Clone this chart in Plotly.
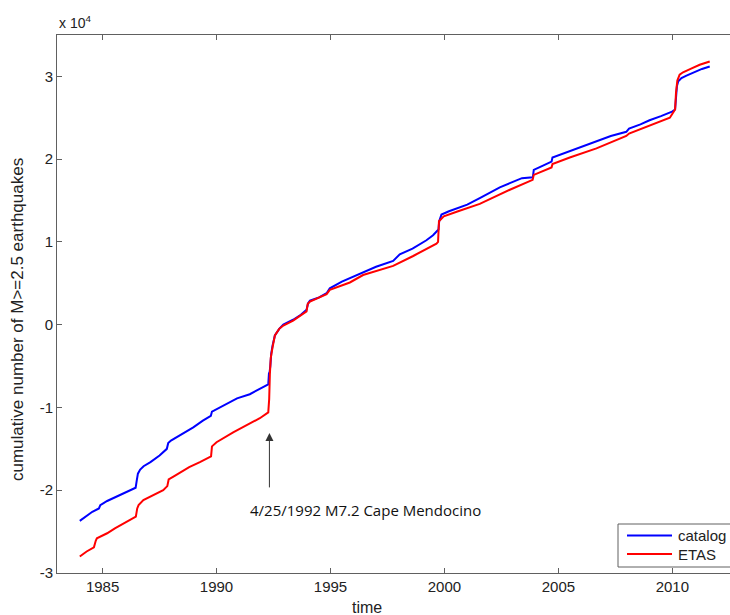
import plotly.graph_objects as go

# ---- data (values in units of 10^4 earthquakes) ----
catalog_year = [1984.00, 1984.15, 1984.30, 1984.55, 1984.84, 1984.90, 1985.20, 1985.50, 1985.76,
                1986.10, 1986.45, 1986.50, 1986.55, 1986.65, 1986.80, 1987.10, 1987.50, 1987.82,
                1987.88, 1988.00, 1988.50, 1988.98, 1989.40, 1989.75, 1989.80, 1990.00, 1990.37,
                1990.90, 1991.46, 1991.90, 1992.27, 1992.30, 1992.33, 1992.36, 1992.40, 1992.46,
                1992.56, 1992.75, 1992.93, 1993.36, 1993.70, 1993.95, 1994.02, 1994.10, 1994.50,
                1994.83, 1994.97, 1995.50, 1996.00, 1996.43, 1997.00, 1997.75, 1997.85, 1998.04,
                1998.60, 1999.21, 1999.50, 1999.68, 1999.74, 1999.77, 1999.87, 2000.20, 2000.53,
                2001.00, 2001.55, 2002.00, 2002.43, 2002.87, 2003.40, 2003.88, 2003.92, 2004.30,
                2004.70, 2004.74, 2005.50, 2006.00, 2006.67, 2007.30, 2007.98, 2008.10, 2008.60,
                2009.00, 2009.50, 2009.96, 2010.12, 2010.16, 2010.20, 2010.26, 2010.40, 2010.62,
                2011.00, 2011.30, 2011.64]
catalog_val = [-2.37, -2.34, -2.30, -2.26, -2.22, -2.18, -2.13, -2.09, -2.06,
               -2.02, -1.97, -1.88, -1.80, -1.75, -1.71, -1.66, -1.58, -1.50,
               -1.43, -1.40, -1.32, -1.24, -1.16, -1.10, -1.05, -1.02, -0.96,
               -0.89, -0.84, -0.77, -0.72, -0.59, -0.57, -0.50, -0.35, -0.25,
               -0.13, -0.05, 0.00, 0.06, 0.12, 0.18, 0.26, 0.29, 0.33,
               0.38, 0.44, 0.52, 0.58, 0.63, 0.70, 0.77, 0.80, 0.85,
               0.92, 1.02, 1.08, 1.13, 1.15, 1.25, 1.33, 1.37, 1.40,
               1.45, 1.53, 1.60, 1.66, 1.71, 1.77, 1.78, 1.87, 1.92,
               1.97, 2.02, 2.10, 2.15, 2.22, 2.28, 2.33, 2.37, 2.42,
               2.47, 2.52, 2.57, 2.60, 2.72, 2.88, 2.94, 2.98, 3.01,
               3.06, 3.09, 3.12]

etas_year = [1984.00, 1984.30, 1984.62, 1984.66, 1984.70, 1984.75, 1984.89, 1985.20, 1985.54,
             1986.00, 1986.46, 1986.52, 1986.58, 1986.79, 1987.20, 1987.66, 1987.84, 1987.90,
             1988.20, 1988.80, 1989.27, 1989.76, 1989.80, 1990.00, 1990.73, 1991.46, 1991.90,
             1992.27, 1992.31, 1992.34, 1992.38, 1992.46, 1992.56, 1992.75, 1992.93, 1993.36,
             1993.95, 1994.00, 1994.10, 1994.83, 1994.97, 1995.85, 1996.43, 1997.75, 1998.63,
             1999.65, 1999.72, 1999.76, 1999.97, 2000.60, 2001.55, 2002.87, 2003.87, 2003.92,
             2004.70, 2004.74, 2005.50, 2006.67, 2007.98, 2008.10, 2009.00, 2009.89, 2010.03,
             2010.12, 2010.16, 2010.22, 2010.32, 2010.47, 2010.80, 2011.20, 2011.64]
etas_val = [-2.80, -2.74, -2.69, -2.63, -2.61, -2.58, -2.56, -2.52, -2.46,
            -2.39, -2.32, -2.22, -2.18, -2.12, -2.06, -2.00, -1.95, -1.87,
            -1.82, -1.72, -1.66, -1.59, -1.47, -1.42, -1.30, -1.20, -1.13,
            -1.06, -0.90, -0.60, -0.40, -0.27, -0.13, -0.05, -0.01, 0.05,
            0.16, 0.25, 0.28, 0.37, 0.42, 0.51, 0.60, 0.71, 0.83,
            0.98, 1.00, 1.25, 1.31, 1.37, 1.46, 1.63, 1.75, 1.81,
            1.90, 1.94, 2.02, 2.13, 2.28, 2.31, 2.41, 2.50, 2.56,
            2.60, 2.80, 2.95, 3.02, 3.05, 3.09, 3.14, 3.18]

x_ticks = [1985, 1990, 1995, 2000, 2005, 2010]
y_ticks = [-3, -2, -1, 0, 1, 2, 3]
series_names = ["catalog", "ETAS"]
series_colors = ["#0000ff", "#ff0000"]

event_year = 1992.32
event_label = "4/25/1992 M7.2 Cape Mendocino"

FONT = "Liberation Sans, Arial, sans-serif"
AX = "#606060"

fig = go.Figure()
fig.add_trace(go.Scatter(x=catalog_year, y=catalog_val, mode="lines", name=series_names[0],
                         line=dict(color=series_colors[0], width=2), showlegend=False))
fig.add_trace(go.Scatter(x=etas_year, y=etas_val, mode="lines", name=series_names[1],
                         line=dict(color=series_colors[1], width=2), showlegend=False))

W, H = 730, 615
L, R, T, B = 57, 0, 35, 42
pw, ph = W - L - R, H - T - B

def px(x):
    return (x - L) / pw

def py(y):
    return (H - B - y) / ph

fig.update_layout(
    width=W, height=H,
    margin=dict(l=L, r=R, t=T, b=B, pad=0),
    paper_bgcolor="white", plot_bgcolor="white",
    font=dict(family=FONT, size=15, color="#222"),
    xaxis=dict(range=[1983, 2012.53], tickvals=x_ticks, ticktext=[str(v) for v in x_ticks],
               ticks="inside", ticklen=5, tickcolor=AX, showline=True, linecolor=AX,
               linewidth=1, mirror="ticks", showgrid=False, zeroline=False,
               tickfont=dict(size=15, color="#222")),
    yaxis=dict(range=[-3, 3.5], tickvals=y_ticks, ticktext=[str(v) for v in y_ticks],
               ticks="inside", ticklen=5, tickcolor=AX, showline=True, linecolor=AX,
               linewidth=1, mirror=False, showgrid=False, zeroline=False,
               tickfont=dict(size=15, color="#222")),
    showlegend=False,
)

annotations = [
    dict(text="x 10<sup>4</sup>", xref="paper", yref="paper", x=px(57), y=py(22),
         xanchor="left", yanchor="middle", showarrow=False, font=dict(size=14, color="#222")),
    dict(text="cumulative number of M>=2.5 earthquakes", xref="paper", yref="paper",
         x=px(17), y=py(320), textangle=-90, xanchor="center", yanchor="middle",
         showarrow=False, font=dict(size=17, color="#222")),
    dict(text="time", xref="paper", yref="paper", x=px(367), y=py(607),
         xanchor="center", yanchor="middle", showarrow=False, font=dict(size=16, color="#222")),
    dict(text=" ", x=event_year, y=-1.31, ax=event_year, ay=-1.99, xref="x", yref="y",
         axref="x", ayref="y", showarrow=True, arrowhead=2, arrowsize=1.6, arrowwidth=1,
         arrowcolor="#333", font=dict(size=1)),
    dict(text=event_label, xref="paper", yref="paper", x=px(365), y=py(510),
         xanchor="center", yanchor="middle", showarrow=False,
         font=dict(family="Open Sans, sans-serif", size=15, color="#111")),
]

# legend drawn manually (box + sample lines + labels)
shapes = [dict(type="rect", xref="paper", yref="paper", x0=px(618), x1=px(745),
               y0=py(567), y1=py(524), line=dict(color=AX, width=1), fillcolor="white")]
for i, (nm, col) in enumerate(zip(series_names, series_colors)):
    yy = 535.5 + 18.5 * i
    shapes.append(dict(type="line", xref="paper", yref="paper", x0=px(627), x1=px(672),
                       y0=py(yy), y1=py(yy), line=dict(color=col, width=2)))
    annotations.append(dict(text=nm, xref="paper", yref="paper", x=px(676), y=py(yy),
                            xanchor="left", yanchor="middle", showarrow=False,
                            font=dict(size=15, color="#222")))

fig.update_layout(annotations=annotations, shapes=shapes)
fig.write_html("out.html")
